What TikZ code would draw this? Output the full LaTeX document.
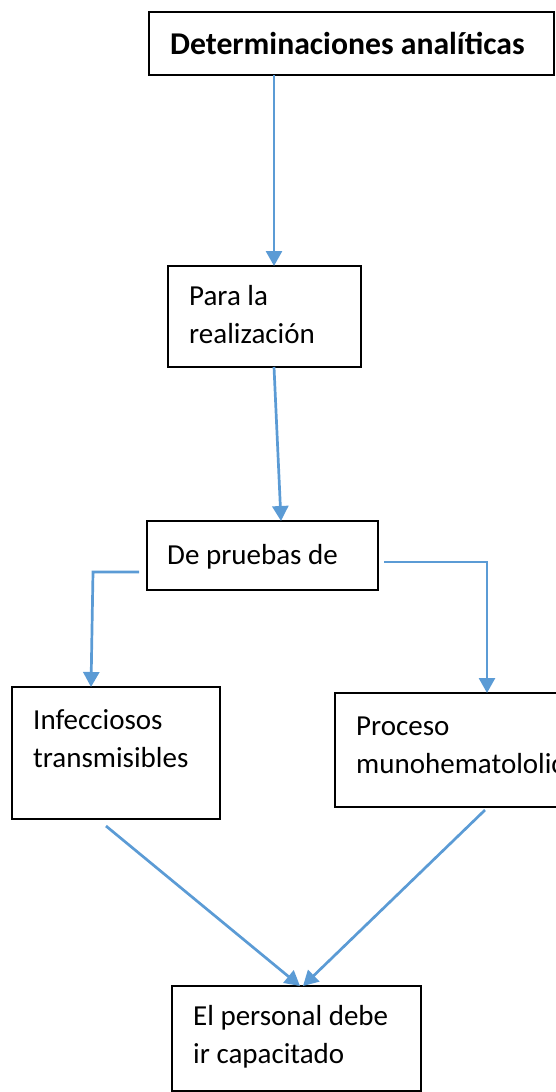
\documentclass[tikz,border=0pt]{standalone}
\usepackage{fontspec}
\setmainfont{Carlito}
\usetikzlibrary{arrows.meta}
\definecolor{conn}{HTML}{5B9BD5}
\tikzset{
  box/.style={draw=black, line width=1.1pt, rectangle, inner sep=0pt, outer sep=0pt, anchor=north west},
  txt/.style={anchor=base west, inner sep=0pt, font=\fontsize{29}{38}\selectfont},
  ttl/.style={anchor=base west, inner sep=0pt, font=\fontsize{31.7}{38}\selectfont\bfseries},
  link/.style={draw=conn, line width=2.7pt, -{Triangle[length=15pt,width=16pt]}}
}
\begin{document}
\begin{tikzpicture}[x=1pt,y=-1pt]
\useasboundingbox (0,0) rectangle (556,1092);
\clip (0,0) rectangle (556,1092);
% boxes
\node[box, minimum width=405pt, minimum height=63pt] (b1) at (149,12) {};
\node[box, minimum width=193pt, minimum height=101pt] (b2) at (168,266) {};
\node[box, minimum width=231pt, minimum height=69pt] (b3) at (147,521) {};
\node[box, minimum width=208pt, minimum height=132pt] (b4) at (12,687) {};
\node[box, minimum width=260pt, minimum height=114pt] (b5) at (335,693) {};
\node[box, minimum width=249pt, minimum height=105pt] (b6) at (172,986) {};
% texts
\node[ttl] (t1) at (170,54) {Determinaciones analíticas};
\node[txt] (t2a) at (189,305) {Para la};
\node[txt] (t2b) at (189,343) {realización};
\node[txt] (t3) at (167,564) {De pruebas de};
\node[txt] (t4a) at (33,729) {Infecciosos};
\node[txt] (t4b) at (33,767) {transmisibles};
\node[txt] (t5a) at (356,735) {Proceso};
\node[txt] (t5b) at (356,773) {munohematololico};
\node[txt] (t6a) at (193,1025) {El personal debe};
\node[txt] (t6b) at (193,1063) {ir capacitado};
% connector end points
\coordinate (c1s) at (274,75);
\coordinate (c1e) at (274,266);
\coordinate (c2s) at (274,367);
\coordinate (c2e) at (281,521);
\coordinate (c3s) at (139,572);
\coordinate (c3k) at (93,572);
\coordinate (c3e) at (91,687);
\coordinate (c4s) at (384,562);
\coordinate (c4k) at (487,562);
\coordinate (c4e) at (487,693);
\coordinate (c5s) at (106,826);
\coordinate (c5e) at (300,986);
\coordinate (c6s) at (485,810);
\coordinate (c6e) at (303,986);
% connectors
\draw[link] (c1s) -- (c1e);
\draw[link] (c2s) -- (c2e);
\draw[link] (c3s) -- (c3k) -- (c3e);
\draw[link] (c4s) -- (c4k) -- (c4e);
\draw[link] (c5s) -- (c5e);
\draw[link] (c6s) -- (c6e);
\end{tikzpicture}
\end{document}
